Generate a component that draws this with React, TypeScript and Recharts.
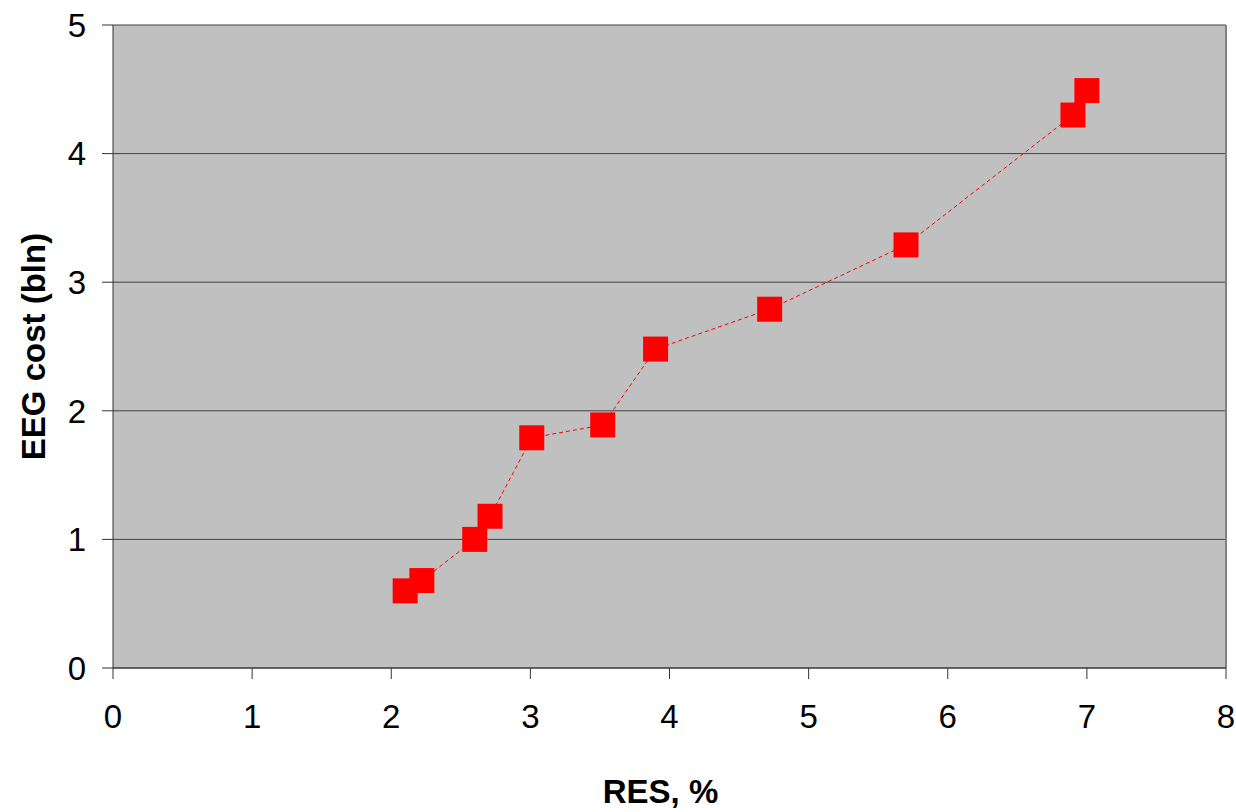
import {
  ScatterChart,
  Scatter,
  XAxis,
  YAxis,
  CartesianGrid,
  ReferenceLine,
  Label,
} from "recharts";

const resShare = [2.1, 2.22, 2.6, 2.71, 3.01, 3.52, 3.9, 4.72, 5.7, 6.9, 7.0];
const eegCost = [0.6, 0.68, 1.0, 1.18, 1.79, 1.89, 2.48, 2.79, 3.29, 4.3, 4.49];
const xTicks = [0, 1, 2, 3, 4, 5, 6, 7, 8];
const yTicks = [0, 1, 2, 3, 4, 5];

const data = resShare.map((x, i) => ({ x, y: eegCost[i] }));

const FONT = "'Liberation Sans', Arial, sans-serif";

function Square(props: any) {
  const { cx, cy } = props;
  return <rect x={cx - 12.5} y={cy - 12.5} width={25} height={25} fill="#ff0000" />;
}

function YTitle(props: any) {
  const { viewBox } = props;
  const x = viewBox.x + 12;
  const y = viewBox.y + viewBox.height / 2;
  return (
    <text
      x={x}
      y={y}
      transform={`rotate(-90, ${x}, ${y})`}
      textAnchor="middle"
      fontFamily={FONT}
      fontSize={33}
      fontWeight="bold"
      fill="#000"
    >
      EEG cost (bln)
    </text>
  );
}

export default function App() {
  return (
    <div style={{ position: "absolute", left: 0, top: 0, width: 1236, height: 812, background: "#fff" }}>
      <ScatterChart
        width={1236}
        height={812}
        margin={{ top: 25, right: 10, bottom: 0, left: 33 }}
      >
        <CartesianGrid fill="#c0c0c0" vertical={false} stroke="#404040" strokeWidth={1} />
        <XAxis
          type="number"
          dataKey="x"
          domain={[0, 8]}
          ticks={xTicks}
          interval={0}
          height={144}
          tickSize={11}
          tickMargin={26}
          stroke="#333"
          tick={{ fill: "#000", fontSize: 33, fontFamily: FONT }}
        >
          <Label
            value="RES, %"
            position="insideBottom"
            offset={9}
            dx={-9}
            style={{ fontFamily: FONT, fontSize: 33, fontWeight: "bold", fill: "#000" }}
          />
        </XAxis>
        <YAxis
          type="number"
          dataKey="y"
          domain={[0, 5]}
          ticks={yTicks}
          interval={0}
          width={80}
          tickSize={11}
          tickMargin={16}
          stroke="#333"
          tick={{ fill: "#000", fontSize: 33, fontFamily: FONT }}
        >
          <Label content={<YTitle />} />
        </YAxis>
        <ReferenceLine x={8} stroke="#808080" strokeWidth={2} />
        <Scatter
          data={data}
          line={{ stroke: "#ff0000", strokeWidth: 1, strokeDasharray: "4 3" }}
          shape={<Square />}
          isAnimationActive={false}
        />
      </ScatterChart>
    </div>
  );
}
